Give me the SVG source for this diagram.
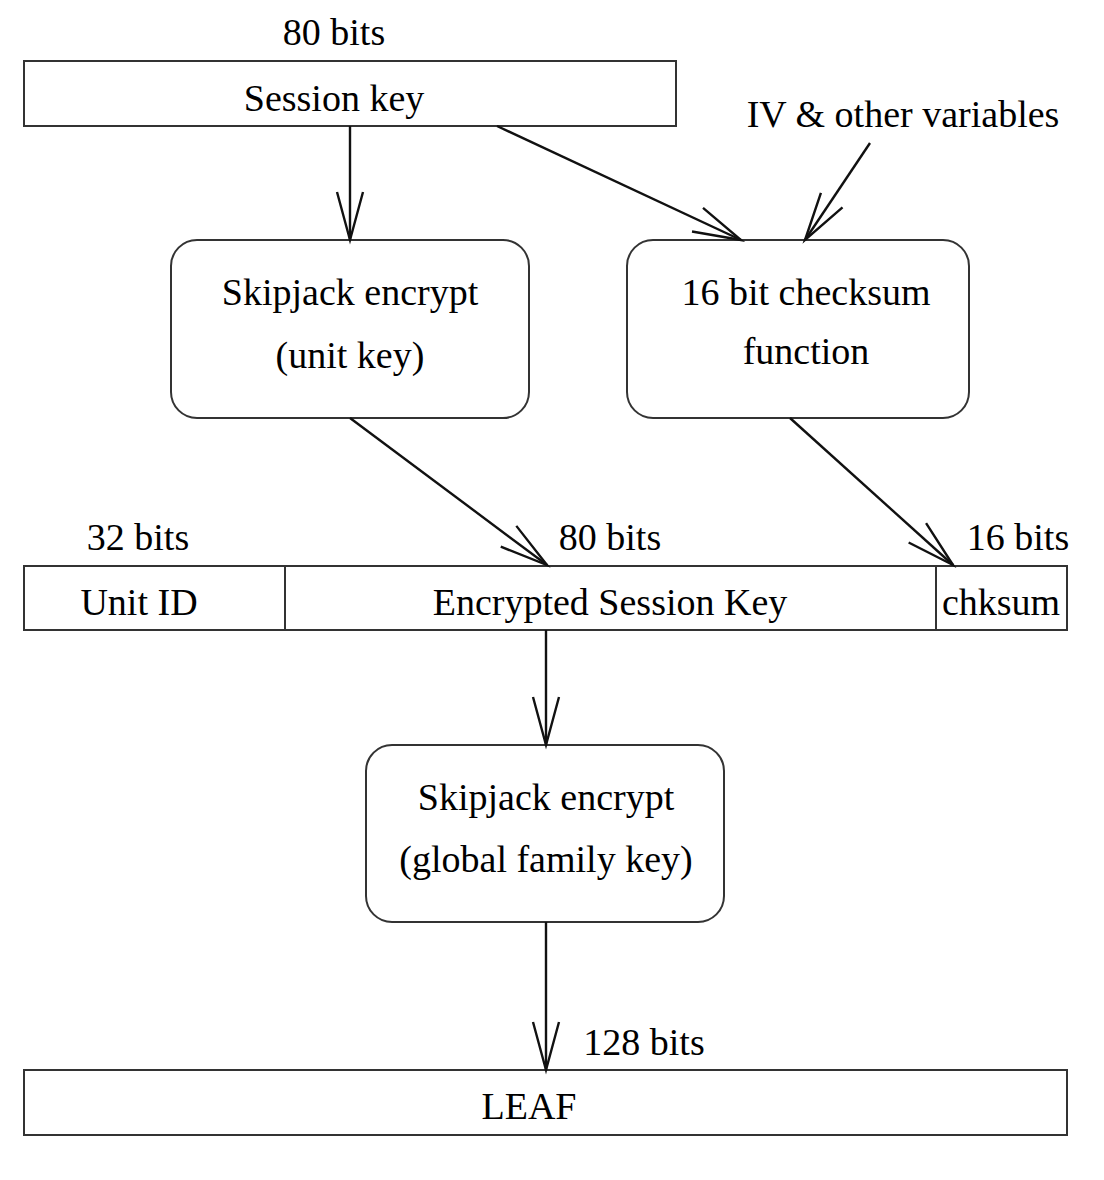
<svg xmlns="http://www.w3.org/2000/svg" width="1104" height="1180" viewBox="0 0 1104 1180">
<style>
.t{font-family:'Liberation Serif',serif;font-size:38px;fill:#000;text-anchor:middle}
.b{fill:#fff;stroke:#333;stroke-width:2}
.c{stroke:#111;stroke-width:2.4;fill:none}
</style>
<defs>
<marker id="v" markerUnits="userSpaceOnUse" markerWidth="60" markerHeight="40" viewBox="-50 -20 60 40" refX="0" refY="0" orient="auto">
<path d="M-48,-13 L0,0 L-48,13" fill="none" stroke="#111" stroke-width="2.4"/>
</marker>
</defs>
<rect width="1104" height="1180" fill="#fff"/>
<g id="session-key">
<text class="t" x="334" y="45">80 bits</text>
<rect class="b" x="24" y="61" width="652" height="65"/>
<text class="t" x="334" y="111">Session key</text>
</g>
<g id="iv">
<text class="t" x="903" y="127">IV &amp; other variables</text>
</g>
<g id="skipjack-unit">
<rect class="b" x="171" y="240" width="358" height="178" rx="26"/>
<text class="t" x="350" y="305">Skipjack encrypt</text>
<text class="t" x="350" y="368">(unit key)</text>
</g>
<g id="checksum">
<rect class="b" x="627" y="240" width="342" height="178" rx="26"/>
<text class="t" x="806" y="305">16 bit checksum</text>
<text class="t" x="806" y="364">function</text>
</g>
<g id="fields">
<text class="t" x="138" y="550">32 bits</text>
<text class="t" x="610" y="550">80 bits</text>
<text class="t" x="1018" y="550">16 bits</text>
<rect class="b" x="24" y="566" width="1043" height="64"/>
<line x1="285" y1="566" x2="285" y2="630" stroke="#333" stroke-width="2"/>
<line x1="936" y1="566" x2="936" y2="630" stroke="#333" stroke-width="2"/>
<text class="t" x="139" y="615">Unit ID</text>
<text class="t" x="610" y="615">Encrypted Session Key</text>
<text class="t" x="1001" y="615">chksum</text>
</g>
<g id="skipjack-family">
<rect class="b" x="366" y="745" width="358" height="177" rx="26"/>
<text class="t" x="546" y="810">Skipjack encrypt</text>
<text class="t" x="546" y="872">(global family key)</text>
</g>
<g id="leaf">
<text class="t" x="644" y="1055">128 bits</text>
<rect class="b" x="24" y="1070" width="1043" height="65"/>
<text class="t" x="529" y="1119">LEAF</text>
</g>
<g id="connectors">
<line class="c" x1="350" y1="126" x2="350" y2="240" marker-end="url(#v)"/>
<line class="c" x1="497" y1="126" x2="741" y2="240" marker-end="url(#v)"/>
<line class="c" x1="870" y1="143" x2="805" y2="240" marker-end="url(#v)"/>
<line class="c" x1="350" y1="418" x2="547" y2="565" marker-end="url(#v)"/>
<line class="c" x1="790" y1="418" x2="953" y2="565" marker-end="url(#v)"/>
<line class="c" x1="546" y1="630" x2="546" y2="745" marker-end="url(#v)"/>
<line class="c" x1="546" y1="922" x2="546" y2="1070" marker-end="url(#v)"/>
</g>
</svg>
